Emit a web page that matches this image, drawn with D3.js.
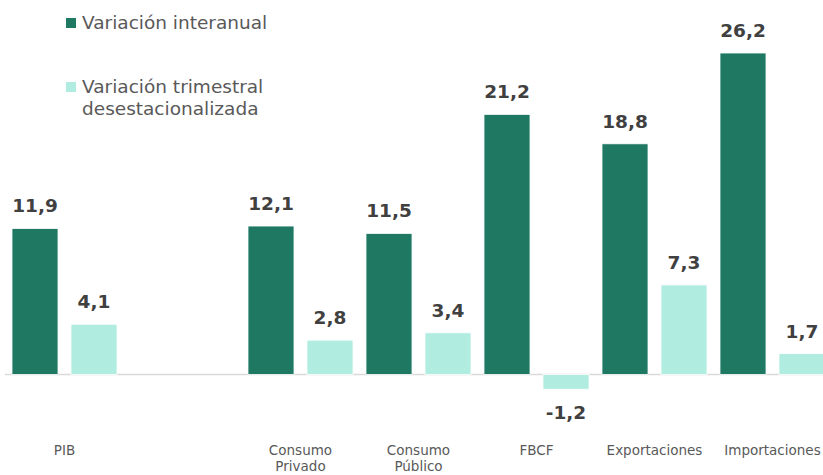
<!DOCTYPE html>
<html>
<head>
<meta charset="utf-8">
<script src="https://cdn.jsdelivr.net/npm/d3@7"></script>
<style>
    body { margin: 0; background: #fff; }
    text { font-family: "DejaVu Sans", sans-serif; }
</style>
</head>
<body>
<div id="canvas"></div>
<script>
// data
var categories = ["PIB", "", "Consumo Privado", "Consumo Público", "FBCF", "Exportaciones", "Importaciones"];
var interanual = [11.9, null, 12.1, 11.5, 21.2, 18.8, 26.2];
var trimestral = [4.1, null, 2.8, 3.4, -1.2, 7.3, 1.7];
var seriesNames = ["Variación interanual", "Variación trimestral desestacionalizada"];
var seriesColors = ["#1e7862", "#b0ede0"];

function init() {
    var svg = d3.select("#canvas").append("svg")
        .attr("width", 823)
        .attr("height", 475);

    var x0 = d3.scaleBand()
        .domain(categories)
        .range([5.5, 831.5])
        .paddingInner(0.11)
        .paddingOuter(0.055);
    var x1 = d3.scaleBand()
        .domain([0, 1])
        .range([0, x0.bandwidth()])
        .paddingInner(0.22);
    var y = d3.scaleLinear()
        .domain([0, 26.2])
        .range([374.5, 53]);

    var rows = categories.map(function (c, i) {
        return { cat: c, vals: [interanual[i], trimestral[i]] };
    });

    // baseline
    svg.append("line")
        .attr("x1", 5)
        .attr("x2", 823)
        .attr("y1", y(0))
        .attr("y2", y(0))
        .attr("stroke", "#d9d9d9")
        .attr("stroke-width", 1.5);

    var groups = svg.selectAll("g.grp")
        .data(rows)
        .enter().append("g")
        .attr("class", "grp")
        .attr("transform", function (d) { return "translate(" + x0(d.cat) + ",0)"; });

    function bars(d) {
        return d.vals.map(function (v, j) { return { v: v, j: j }; })
            .filter(function (e) { return e.v !== null; });
    }

    groups.selectAll("rect")
        .data(bars)
        .enter().append("rect")
        .attr("x", function (d) { return x1(d.j); })
        .attr("width", x1.bandwidth())
        .attr("y", function (d) { return y(Math.max(0, d.v)); })
        .attr("height", function (d) { return Math.abs(y(d.v) - y(0)); })
        .attr("fill", function (d) { return seriesColors[d.j]; })
        .attr("stroke", "#fff")
        .attr("stroke-width", 0.8);

    groups.selectAll("text.val")
        .data(bars)
        .enter().append("text")
        .attr("class", "val")
        .attr("x", function (d) { return x1(d.j) + x1.bandwidth() / 2; })
        .attr("y", function (d) { return d.v >= 0 ? y(d.v) - 16 : y(d.v) + 30; })
        .attr("text-anchor", "middle")
        .attr("font-size", 18.5)
        .attr("font-weight", "bold")
        .attr("fill", "#404040")
        .text(function (d) { return d3.format(".1f")(d.v).replace(".", ",").replace("\u2212", "-"); });

    // category labels
    groups.append("text")
        .attr("class", "cat")
        .attr("x", x0.bandwidth() / 2)
        .attr("y", 455)
        .attr("text-anchor", "middle")
        .attr("font-size", 13.5)
        .attr("fill", "#595959")
        .selectAll("tspan")
        .data(function (d) { return d.cat.indexOf("Consumo") === 0 ? d.cat.split(" ") : [d.cat]; })
        .enter().append("tspan")
        .attr("x", x0.bandwidth() / 2)
        .attr("dy", function (d, i) { return i === 0 ? 0 : 16; })
        .text(function (d) { return d; });

    // legend
    var legend = svg.append("g").attr("transform", "translate(66,18)");
    legend.append("rect").attr("width", 10).attr("height", 10).attr("fill", seriesColors[0]);
    legend.append("text").attr("x", 16).attr("y", 11).attr("font-size", 18.5).attr("fill", "#595959")
        .text(seriesNames[0]);
    legend.append("rect").attr("y", 64).attr("width", 10).attr("height", 10).attr("fill", seriesColors[1]);
    var t2 = legend.append("text").attr("x", 16).attr("y", 75).attr("font-size", 18.5).attr("fill", "#595959");
    t2.append("tspan").attr("x", 16).text("Variación trimestral");
    t2.append("tspan").attr("x", 16).attr("dy", 22).text("desestacionalizada");
}
window.onload = init;
</script>
</body>
</html>
